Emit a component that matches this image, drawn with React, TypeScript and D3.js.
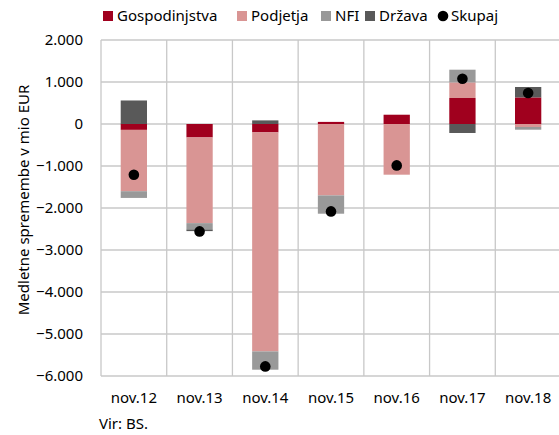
import React from "react";
import * as d3 from "d3";

// podatki (mio EUR)
const months = ["nov.12", "nov.13", "nov.14", "nov.15", "nov.16", "nov.17", "nov.18"];
const gospodinjstva = [-140, -320, -200, 50, 221, 619, 633];
const podjetja = [-1460, -2040, -5214, -1700, -1207, 371, -71];
const nfi = [-160, -150, -436, -436, 0, 303, -65];
const drzava = [560, -40, 86, 0, 0, -214, 248];
const skupaj = [-1210, -2557, -5771, -2081, -986, 1079, 738];
const yTicks = [2000, 1000, 0, -1000, -2000, -3000, -4000, -5000, -6000];

const seriesKeys = ["Gospodinjstva", "Podjetja", "NFI", "Država"];
const colors = ["#A0001E", "#D99594", "#999999", "#595959"];

const font = "'Noto Sans', sans-serif";

export default function App() {
  const width = 559,
    height = 435;
  const left = 101,
    right = 561,
    top = 40,
    bottom = 376;

  const rows = months.map((m, i) => ({
    month: m,
    Gospodinjstva: gospodinjstva[i],
    Podjetja: podjetja[i],
    NFI: nfi[i],
    "Država": drzava[i],
  }));

  const stack = d3
    .stack<any>()
    .keys(seriesKeys)
    .offset(d3.stackOffsetDiverging);
  const stacked = stack(rows);

  const xScale = d3
    .scaleBand()
    .domain(months)
    .range([left, right])
    .paddingInner(0.6)
    .paddingOuter(0.3);
  const step = xScale.step();

  const yScale = d3.scaleLinear().domain([-6000, 2000]).range([bottom, top]);

  const fmt = (v: number) => d3.format(",")(v).replace(/,/g, ".");

  const legendX = [103, 237, 321, 365];

  return (
    <svg
      width={width}
      height={height}
      style={{ position: "absolute", left: 0, top: 0, background: "#fff" }}
      fontFamily={font}
    >
      {/* legenda */}
      <g>
        {seriesKeys.map((k, i) => (
          <g key={k}>
            <rect x={legendX[i]} y={11} width={10} height={10} fill={colors[i]} />
            <text x={legendX[i] + 14} y={21} fontSize={15} fill="#000">
              {k}
            </text>
          </g>
        ))}
        <circle cx={443} cy={16} r={5.3} fill="#000" />
        <text x={451} y={21} fontSize={15} fill="#000">
          Skupaj
        </text>
      </g>

      {/* mreža */}
      <g>
        {yTicks.map((t) => (
          <line
            key={t}
            x1={left}
            x2={right}
            y1={yScale(t)}
            y2={yScale(t)}
            stroke="#c8c8c8"
            strokeWidth={1.3}
          />
        ))}
        {d3.range(months.length + 1).map((i) => (
          <line
            key={i}
            x1={left + i * step}
            x2={left + i * step}
            y1={top}
            y2={bottom}
            stroke="#c8c8c8"
            strokeWidth={1.3}
          />
        ))}
      </g>

      {/* y os */}
      <g>
        {yTicks.map((t) => (
          <text
            key={t}
            x={83}
            y={yScale(t) + 5}
            textAnchor="end"
            fontSize={15}
            fill="#000"
          >
            {fmt(t)}
          </text>
        ))}
        <text
          transform={`translate(29,${(top + bottom) / 2 - 8}) rotate(-90)`}
          textAnchor="middle"
          fontSize={15}
          fill="#000"
        >
          Medletne spremembe v mio EUR
        </text>
      </g>

      {/* stolpci */}
      <g>
        {stacked.map((s, si) => (
          <g key={s.key} fill={colors[si]}>
            {s.map((d, i) => {
              const y0 = yScale(Math.max(d[0], d[1]));
              const y1 = yScale(Math.min(d[0], d[1]));
              if (y1 - y0 <= 0) return null;
              return (
                <rect
                  key={i}
                  x={xScale(months[i])}
                  y={y0}
                  width={xScale.bandwidth()}
                  height={y1 - y0}
                />
              );
            })}
          </g>
        ))}
      </g>

      {/* skupaj */}
      <g>
        {skupaj.map((v, i) => (
          <circle
            key={i}
            cx={(xScale(months[i]) as number) + xScale.bandwidth() / 2}
            cy={yScale(v)}
            r={5.3}
            fill="#000"
          />
        ))}
      </g>

      {/* x os */}
      <g>
        {months.map((m) => (
          <text
            key={m}
            x={(xScale(m) as number) + xScale.bandwidth() / 2}
            y={403}
            textAnchor="middle"
            fontSize={15}
            fill="#000"
          >
            {m}
          </text>
        ))}
      </g>

      <text x={99} y={429} fontSize={15} fill="#000">
        Vir: BS.
      </text>
    </svg>
  );
}
